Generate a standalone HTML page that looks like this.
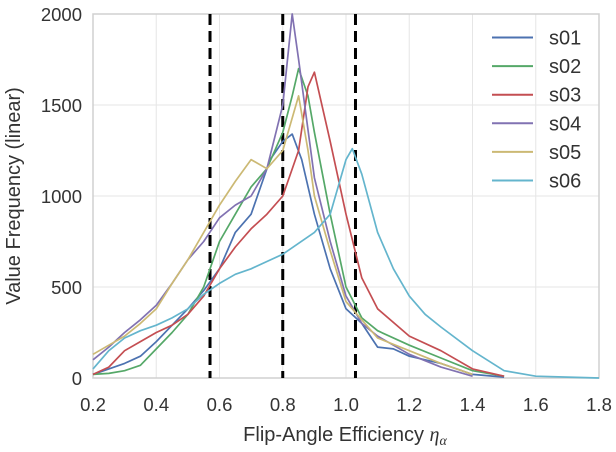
<!DOCTYPE html>
<html><head><meta charset="utf-8"><style>
body{margin:0;background:#fff;}
svg text{font-family:"Liberation Sans",Arial,sans-serif;fill:#333;}
</style></head><body>
<svg id="chart" width="616" height="447" xmlns="http://www.w3.org/2000/svg">
<g id="grid"></g>
<g id="axes"></g>
<g id="vlines"></g>
<g id="series"></g>
<g id="legend"></g>
<text x="345" y="441" text-anchor="middle" font-size="20">Flip-Angle Efficiency <tspan font-family="Liberation Serif" font-style="italic">η</tspan><tspan font-family="Liberation Serif" font-style="italic" font-size="14" dy="4">α</tspan></text>
<text transform="translate(20,196) rotate(-90)" text-anchor="middle" font-size="20">Value Frequency (linear)</text>
</svg>
<script>
const xTicks=[0.2,0.4,0.6,0.8,1.0,1.2,1.4,1.6,1.8];
const xTickLabels=["0.2","0.4","0.6","0.8","1.0","1.2","1.4","1.6","1.8"];
const yTicks=[0,500,1000,1500,2000];
const yTickLabels=["0","500","1000","1500","2000"];
const thresholds=[0.57,0.80,1.03];
const seriesNames=["s01","s02","s03","s04","s05","s06"];
const seriesColors=["#4c72b0","#55a868","#c44e52","#8172b2","#ccb974","#64b5cd"];
const s01x=[0.2,0.25,0.3,0.35,0.4,0.45,0.5,0.55,0.6,0.65,0.7,0.73,0.76,0.8,0.83,0.86,0.9,0.95,1.0,1.05,1.1,1.15,1.2,1.3,1.4,1.5];
const s01y=[20,50,80,120,200,290,380,480,600,800,900,1050,1200,1300,1340,1200,900,600,380,300,170,160,120,80,20,5];
const s02x=[0.2,0.25,0.3,0.35,0.4,0.45,0.5,0.55,0.6,0.65,0.7,0.75,0.8,0.83,0.85,0.88,0.9,0.95,1.0,1.05,1.1,1.2,1.3,1.4,1.5];
const s02y=[20,25,40,70,160,250,350,500,750,900,1050,1150,1350,1550,1700,1550,1350,900,500,330,260,180,110,40,10];
const s03x=[0.2,0.25,0.3,0.35,0.4,0.45,0.5,0.55,0.6,0.65,0.7,0.75,0.8,0.85,0.88,0.9,0.95,1.0,1.05,1.1,1.2,1.3,1.4,1.5];
const s03y=[20,60,150,200,250,290,350,450,600,720,820,900,1000,1250,1600,1680,1300,900,550,380,230,150,50,10];
const s04x=[0.2,0.25,0.3,0.35,0.4,0.45,0.5,0.55,0.6,0.65,0.7,0.75,0.8,0.83,0.85,0.9,0.95,1.0,1.05,1.1,1.2,1.3,1.4];
const s04y=[100,170,250,320,400,520,650,750,880,950,1000,1150,1500,2000,1750,1100,750,450,300,230,130,60,10];
const s05x=[0.2,0.25,0.3,0.35,0.4,0.45,0.5,0.55,0.6,0.65,0.7,0.75,0.8,0.85,0.88,0.9,0.95,1.0,1.05,1.1,1.2,1.3,1.4];
const s05y=[130,180,230,300,380,520,650,800,950,1080,1200,1150,1250,1550,1250,1000,700,420,320,220,150,80,20];
const s06x=[0.2,0.25,0.3,0.35,0.4,0.45,0.5,0.55,0.6,0.65,0.7,0.75,0.8,0.85,0.9,0.95,1.0,1.02,1.05,1.1,1.15,1.2,1.25,1.3,1.4,1.5,1.6,1.7,1.8];
const s06y=[50,150,220,260,290,330,380,460,520,570,600,640,680,740,800,900,1200,1260,1120,800,600,450,350,280,150,40,10,5,0];
const allX=[s01x,s02x,s03x,s04x,s05x,s06x];
const allY=[s01y,s02y,s03y,s04y,s05y,s06y];
const L=93,R=599,T=14,B=378;
const sx=v=>L+(v-0.2)/(1.8-0.2)*(R-L);
const sy=v=>B-v/2000*(B-T);
const NS="http://www.w3.org/2000/svg";
function mk(tag,attrs,parent){const e=document.createElementNS(NS,tag);for(const k in attrs)e.setAttribute(k,attrs[k]);parent.appendChild(e);return e;}
const grid=document.getElementById('grid'),axes=document.getElementById('axes');
xTicks.forEach((t,i)=>{
 const g=mk('line',{x1:sx(t),x2:sx(t),y1:T,y2:B,stroke:'#e6e6e6','stroke-width':1},grid);
 
 
 const tx=mk('text',{x:sx(t),y:B+33,'text-anchor':'middle','font-size':18.5},axes);
 tx.textContent=xTickLabels[i];
 
 
});
yTicks.forEach((t,i)=>{
 const g=mk('line',{x1:L,x2:R,y1:sy(t),y2:sy(t),stroke:'#e6e6e6','stroke-width':1},grid);
 
 
 const tx=mk('text',{x:L-11,y:sy(t)+7,'text-anchor':'end','font-size':18.5},axes);
 tx.textContent=yTickLabels[i];
 
 
});
const frame=mk('rect',{x:L,y:T,width:R-L,height:B-T,fill:'none',stroke:'#d0d0d0','stroke-width':1.5},axes);


const vl=document.getElementById('vlines');
thresholds.forEach(t=>{
 const l=mk('line',{x1:sx(t),x2:sx(t),y1:T,y2:B,stroke:'#000','stroke-width':3,'stroke-dasharray':'11,6'},vl);
 
 
});
const sg=document.getElementById('series'),lg=document.getElementById('legend');
seriesNames.forEach((n,i)=>{
 const pts=allX[i].map((x,j)=>sx(x).toFixed(1)+','+sy(allY[i][j]).toFixed(1)).join(' ');
 const p=mk('polyline',{points:pts,fill:'none',stroke:seriesColors[i],'stroke-width':1.7,'stroke-linejoin':'round'},sg);
 
 
 const y=37.5+i*28.6;
 const ll=mk('line',{x1:492,x2:533,y1:y,y2:y,stroke:seriesColors[i],'stroke-width':2},lg);
 
 
 const lt=mk('text',{x:549,y:y+7,'font-size':20},lg);
 lt.textContent=n;
 
 
});
</script>
</body></html>
